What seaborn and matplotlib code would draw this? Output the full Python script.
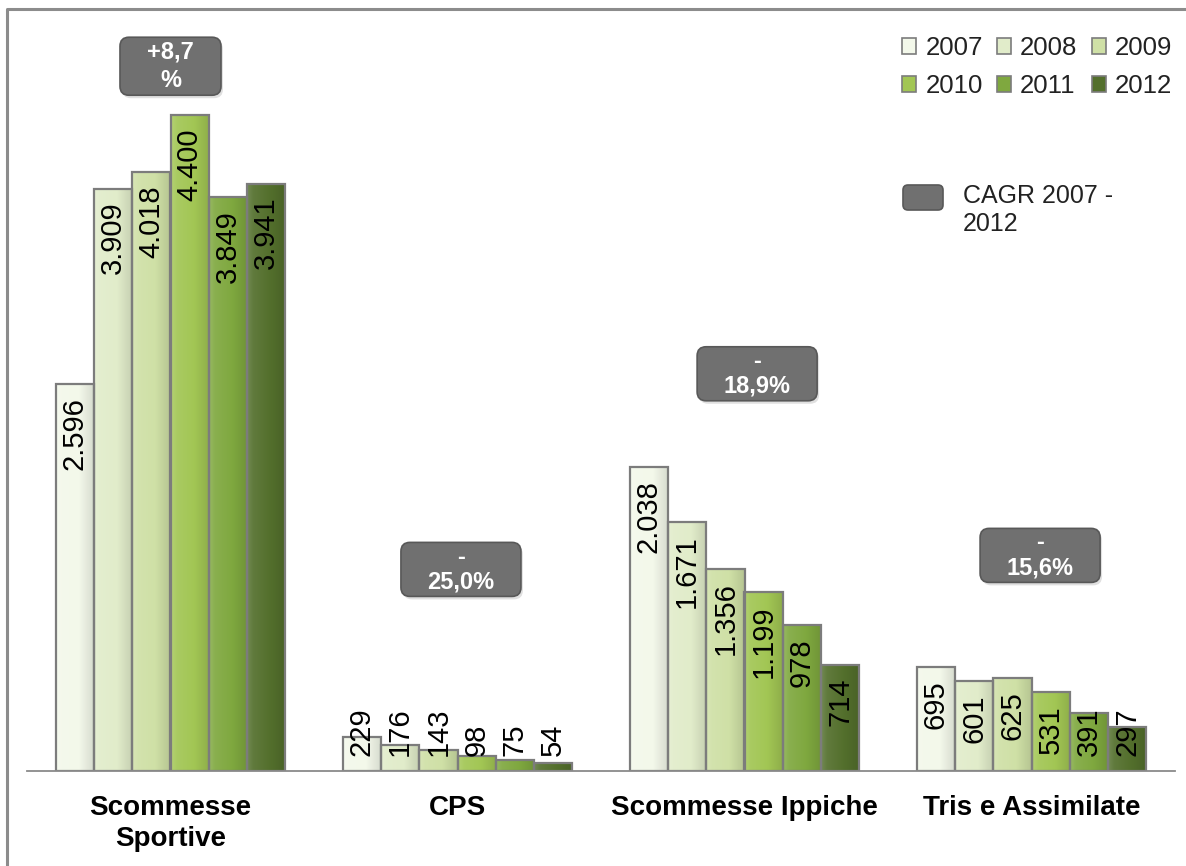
import numpy as np
import pandas as pd
import matplotlib
matplotlib.use("Agg")
import matplotlib.pyplot as plt
import matplotlib.colors as mcolors
from matplotlib.patches import FancyBboxPatch, Patch
from matplotlib.lines import Line2D
from matplotlib.transforms import IdentityTransform
import seaborn as sns

# --- data -------------------------------------------------------------
categories = ["Scommesse\nSportive", "CPS", "Scommesse Ippiche", "Tris e Assimilate"]
years = ["2007", "2008", "2009", "2010", "2011", "2012"]
v2007 = [2596, 229, 2038, 695]
v2008 = [3909, 176, 1671, 601]
v2009 = [4018, 143, 1356, 625]
v2010 = [4400, 98, 1199, 531]
v2011 = [3849, 75, 978, 391]
v2012 = [3941, 54, 714, 297]
cagr_labels = ["+8,7\n%", "-\n25,0%", "-\n18,9%", "-\n15,6%"]

series = [v2007, v2008, v2009, v2010, v2011, v2012]
year_colors = ["#f3f8ea", "#e1ecca", "#cfe0a6", "#a2c654", "#7fa83f", "#536f2c"]

df = pd.DataFrame(
    [(c, y, v) for y, vals in zip(years, series) for c, v in zip(categories, vals)],
    columns=["categoria", "anno", "valore"],
)

# --- figure -----------------------------------------------------------
sns.set_theme(style="white")
plt.rcParams["font.family"] = ["Liberation Sans", "DejaVu Sans"]

W, H, DPI = 1186, 866, 100
fig = plt.figure(figsize=(W / DPI, H / DPI), dpi=DPI)
fig.patch.set_facecolor("white")
ax = fig.add_axes([27 / W, 95 / H, 1148 / W, 745 / H])

sns.barplot(
    data=df, x="categoria", y="valore", hue="anno",
    order=categories, hue_order=years, palette=year_colors,
    width=0.8, edgecolor="#7c7c7c", linewidth=1.6, saturation=1,
    legend=False, ax=ax, errorbar=None,
)
ax.set_xlim(-0.5, 3.5)
ax.set_ylim(0, 5000)


def tint(color, f):
    rgb = np.array(mcolors.to_rgb(color))
    if f >= 1:
        return rgb + (1 - rgb) * (f - 1)
    return rgb * f


# soft left-to-right shading on every bar
for container, col in zip(ax.containers, year_colors):
    for bar in container:
        x0, y0 = bar.get_x(), bar.get_y()
        w, h = bar.get_width(), bar.get_height()
        t = np.linspace(0, 1, 40)
        f = np.interp(t, [0, 0.15, 0.6, 1], [1.18, 1.08, 1.0, 0.88])
        grad = np.array([[tint(col, fi) for fi in f]])
        grad = np.clip(grad, 0, 1)
        im = ax.imshow(grad, extent=(x0, x0 + w, y0, y0 + h), aspect="auto",
                       interpolation="bilinear", zorder=bar.get_zorder())
        im.set_clip_path(bar)
        bar.set_facecolor("none")
        bar.set_zorder(bar.get_zorder() + 0.1)
ax.set_xlim(-0.5, 3.5)
ax.set_ylim(0, 5000)

# --- axes styling -----------------------------------------------------
for s in ["left", "right", "top"]:
    ax.spines[s].set_visible(False)
ax.spines["bottom"].set_color("#8a8a8a")
ax.spines["bottom"].set_linewidth(1.3)
ax.set_yticks([])
ax.set_xlabel("")
ax.set_ylabel("")
ax.set_xticks([-0.5, 0.5, 1.5, 2.5, 3.5])
ax.set_xticklabels([])
ax.set_xticks([0, 1, 2, 3], minor=True)
ax.set_xticklabels(categories, minor=True, fontsize=20, fontweight="bold",
                   color="black", linespacing=1.25)
ax.tick_params(axis="x", which="major", length=8, width=1.2, color="#8a8a8a",
               direction="out")
ax.tick_params(axis="x", which="minor", length=0, pad=17)
ax.set_facecolor("white")

# --- value labels -----------------------------------------------------
fig.canvas.draw()
renderer = fig.canvas.get_renderer()
base_px = ax.transData.transform((0, 0))[1]
for container in ax.containers:
    for bar in container:
        v = bar.get_height()
        xc = bar.get_x() + bar.get_width() / 2
        txt = f"{int(round(v)):,}".replace(",", ".")
        ann = ax.annotate(txt, xy=(xc, v), xytext=(0, -13), textcoords="offset pixels",
                          rotation=90, ha="center", va="top", fontsize=21,
                          color="black", zorder=5)
        bb = ann.get_window_extent(renderer)
        if bb.y0 < base_px + 15:
            ann.remove()
            ax.annotate(txt, xy=(xc, 0), xytext=(0, 15), textcoords="offset pixels",
                        rotation=90, ha="center", va="bottom", fontsize=21,
                        color="black", zorder=5)

# --- CAGR callouts ----------------------------------------------------
px_x = ax.transData.transform((1, 0))[0] - ax.transData.transform((0, 0))[0]
px_y = ax.transData.transform((0, 1))[1] - ax.transData.transform((0, 0))[1]
aspect = px_x / px_y

box_centers = [(0.0, 4730), (1.012, 1353), (2.044, 2666), (3.03, 1447)]
box_sizes_px = [(101, 58), (120, 54), (120, 54), (120, 54)]
box_spacing = [1.3, 1.1, 1.1, 1.1]
for (cx, cy), (bw, bh), ls, lab in zip(box_centers, box_sizes_px, box_spacing, cagr_labels):
    w, h = bw / px_x, bh / px_y
    shadow = FancyBboxPatch((cx - w / 2 + 2 / px_x, cy - h / 2 - 3 / px_y), w, h,
                            boxstyle=f"round,pad=0,rounding_size={9 / px_x}",
                            mutation_aspect=aspect, facecolor="#000000", alpha=0.12,
                            edgecolor="none", zorder=6)
    ax.add_patch(shadow)
    box = FancyBboxPatch((cx - w / 2, cy - h / 2), w, h,
                         boxstyle=f"round,pad=0,rounding_size={9 / px_x}",
                         mutation_aspect=aspect, facecolor="#707070",
                         edgecolor="#585858", linewidth=1.2, zorder=7)
    ax.add_patch(box)
    ax.text(cx, cy, lab, ha="center", va="center", color="white", fontsize=17,
            fontweight="bold", linespacing=ls, zorder=8)

# --- legends ----------------------------------------------------------
# legend fills column by column; order entries so rows read 2007-2009, 2010-2012
order = [0, 3, 1, 4, 2, 5]
handles = [Patch(facecolor=year_colors[i], edgecolor="#7c7c7c", linewidth=1.2) for i in order]
labels = [years[i] for i in order]
leg = fig.legend(handles, labels, ncol=3, loc="upper right",
                 bbox_to_anchor=(1172 / W, 1 - 36 / H), frameon=False,
                 fontsize=18.5, handlelength=0.55, handleheight=0.55,
                 handletextpad=0.35, columnspacing=0.55, labelspacing=0.55,
                 borderpad=0, borderaxespad=0)
for t in leg.get_texts():
    t.set_color("#222222")

ident = IdentityTransform()
cagr_key = FancyBboxPatch((903, H - 210), 40, 25, boxstyle="round,pad=0,rounding_size=5",
                          facecolor="#707070", edgecolor="#585858", linewidth=1.2,
                          transform=ident, figure=fig)
fig.patches.append(cagr_key)
fig.text(963 / W, 1 - 184 / H, "CAGR 2007 -\n2012", ha="left", va="top",
         fontsize=18, color="#222222", linespacing=1.2)

# --- outer frame ------------------------------------------------------
frame = Line2D([7, 7, W + 5], [-5, H - 9, H - 9], transform=ident,
               color="#8c8c8c", linewidth=2.2, figure=fig)
fig.lines.append(frame)

fig.savefig("out.png", dpi=DPI, facecolor="white")
